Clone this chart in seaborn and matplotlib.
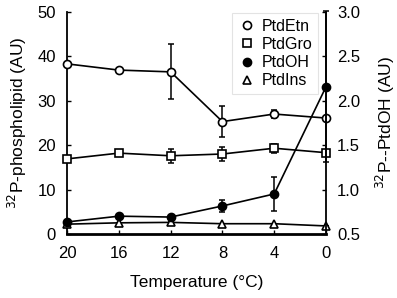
import numpy as np
import pandas as pd
import matplotlib
matplotlib.use("Agg")
import matplotlib.pyplot as plt
import seaborn as sns
from matplotlib.lines import Line2D

# data
temps = [20, 16, 12, 8, 4, 0]
etn = [38.3, 36.9, 36.5, 25.3, 27.0, 26.1]
etn_err = [0, 0, 6.2, 3.4, 1.0, 0]
gro = [16.9, 18.2, 17.6, 18.0, 19.3, 18.3]
gro_err = [0, 0, 1.6, 1.5, 1.0, 0]
ins = [2.2, 2.5, 2.6, 2.3, 2.3, 1.8]
ins_err = [0, 0, 0, 0, 0, 0]
oh = [0.635, 0.70, 0.69, 0.815, 0.95, 2.155]
oh_err = [0, 0, 0, 0.07, 0.19, 0.85]

sns.set_style("ticks")
plt.rcParams['font.family'] = ['Liberation Sans', 'DejaVu Sans']
plt.rcParams['font.size'] = 10
plt.rcParams['text.color'] = 'black'
plt.rcParams['axes.labelcolor'] = 'black'

fig = plt.figure(figsize=(3.97, 2.98), dpi=100)
ax = fig.add_axes([0.169, 0.215, 0.652, 0.745])
ax2 = ax.twinx()

def draw(a, y, err, marker, face):
    df = pd.DataFrame({"t": temps, "v": y})
    sns.lineplot(data=df, x="t", y="v", ax=a, color="k", lw=1.2, marker=marker,
                 markersize=5.8, markerfacecolor=face, markeredgecolor="k",
                 markeredgewidth=1.2, clip_on=False, zorder=3)
    a.errorbar(temps, y, yerr=err, fmt="none", ecolor="k", elinewidth=1.1,
               capsize=2, capthick=1.1, clip_on=False, zorder=2)

draw(ax, etn, etn_err, "o", "white")
draw(ax, gro, gro_err, "s", "white")
draw(ax, ins, ins_err, "^", "white")
draw(ax2, oh, oh_err, "o", "black")

ax.set_xlim(20, 0)
ax.set_xticks(temps)
ax.set_ylim(0, 50)
ax.set_yticks([0, 10, 20, 30, 40, 50])
ax2.set_ylim(0.5, 3.0)
ax2.set_yticks([0.5, 1.0, 1.5, 2.0, 2.5, 3.0])
ax2.set_yticklabels(["%.1f" % v for v in [0.5, 1.0, 1.5, 2.0, 2.5, 3.0]])

ax.set_xlabel("Temperature (°C)", fontsize=12.5, labelpad=10, color="k")
ax.set_ylabel("$^{32}$P-phospholipid (AU)", fontsize=12.5, labelpad=6, color="k")
ax2.set_ylabel("$^{32}$P--PtdOH (AU)", fontsize=12.5, labelpad=10, color="k")

for a in (ax, ax2):
    a.spines["top"].set_visible(False)
    for s in ("left", "right", "bottom"):
        a.spines[s].set_color("k")
        a.spines[s].set_linewidth(1.3)
    a.tick_params(direction="in", length=3, width=1, colors="k", labelsize=12, pad=8)
ax.tick_params(axis="x", pad=9)
ax.spines["bottom"].set_linewidth(2)
ax2.spines["bottom"].set_visible(False)
ax.spines["right"].set_visible(False)
ax2.spines["left"].set_visible(False)

handles = [
    Line2D([], [], ls="none", marker="o", mfc="white", mec="k", mew=1.2, ms=5.8),
    Line2D([], [], ls="none", marker="s", mfc="white", mec="k", mew=1.2, ms=5.8),
    Line2D([], [], ls="none", marker="o", mfc="black", mec="k", mew=1.2, ms=5.8),
    Line2D([], [], ls="none", marker="^", mfc="white", mec="k", mew=1.2, ms=5.8),
]
leg = ax2.legend(handles, ["PtdEtn", "PtdGro", "PtdOH", "PtdIns"], loc="upper right",
                 bbox_to_anchor=(1.0, 1.03), frameon=True, fancybox=False,
                 fontsize=11.5, handletextpad=0.3, labelspacing=0.2,
                 borderpad=0.35, handlelength=1.2)
leg.get_frame().set_edgecolor("#dddddd")
leg.get_frame().set_linewidth(0.8)
for t in leg.get_texts():
    t.set_color("k")

fig.savefig("out.png", dpi=100)
